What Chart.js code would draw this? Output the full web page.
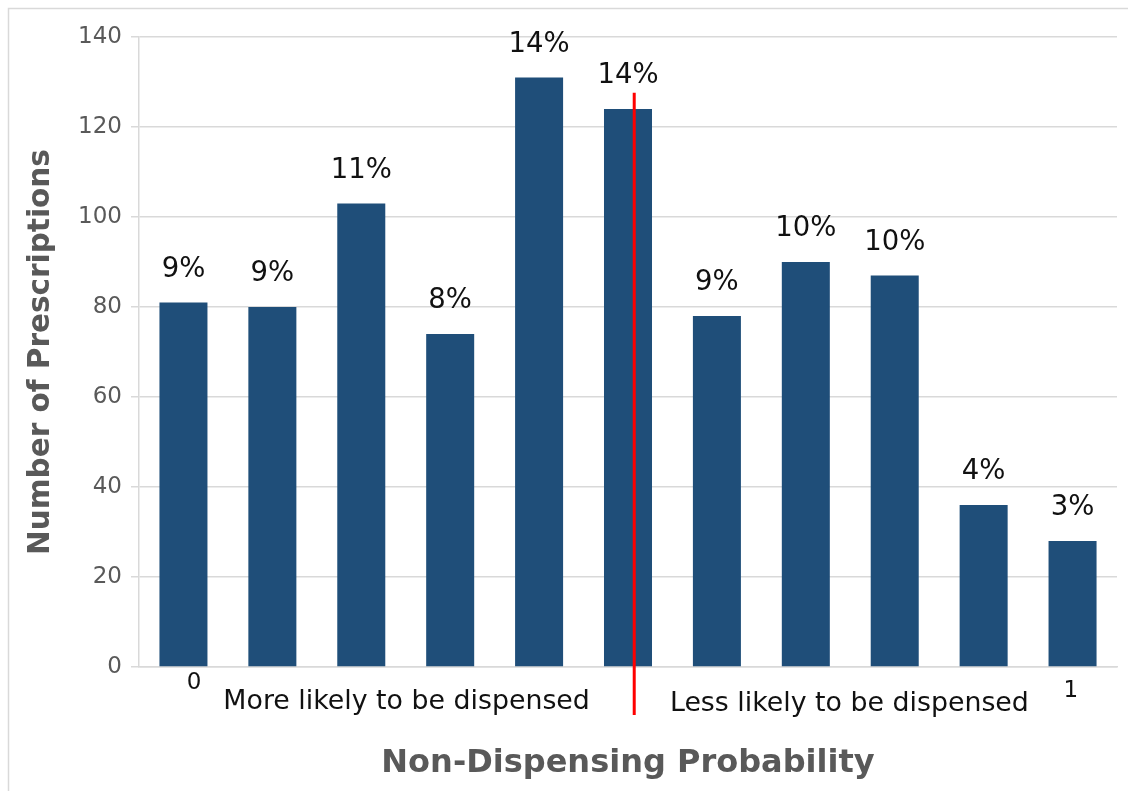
<!DOCTYPE html>
<html>
<head>
<meta charset="utf-8">
<script src="https://cdn.jsdelivr.net/npm/chart.js@4.4.1/dist/chart.umd.min.js"></script>
<style>
  html, body { margin: 0; padding: 0; background: #fff; }
  #wrap { width: 1128px; height: 791px; position: relative; }
</style>
</head>
<body>
<div id="wrap"><canvas id="chart"></canvas></div>
<script>
// probability bins, 0 (left) to 1 (right)
const bins = ['0.0', '0.1', '0.2', '0.3', '0.4', '0.5', '0.6', '0.7', '0.8', '0.9', '1.0'];
const counts = [81, 80, 103, 74, 131, 124, 78, 90, 87, 36, 28];
const shares = ['9%', '9%', '11%', '8%', '14%', '14%', '9%', '10%', '10%', '4%', '3%'];
const yTicks = [0, 20, 40, 60, 80, 100, 120, 140];

// threshold marker (bin index position, top value)
const cutIndex = 5.07;
const cutTop = 127.6;

// captions under the axis: [text, bin index position, offset below axis, font size]
const axisNotes = [
  ['0', 0.12, 16, 23],
  ['1', 9.98, 24, 23],
  ['More likely to be dispensed', 2.51, 35, 26.8],
  ['Less likely to be dispensed', 7.49, 37, 26.8],
];

const FONT = "'DejaVu Sans', Verdana, sans-serif";
const GRID = '#d9d9d9';
const GREY = '#595959';

const framePlugin = {
  id: 'frame',
  beforeDraw(chart) {
    const { ctx, width, height } = chart;
    ctx.save();
    ctx.strokeStyle = GRID;
    ctx.lineWidth = 1.5;
    ctx.beginPath();
    ctx.moveTo(8.5, height);
    ctx.lineTo(8.5, 8.5);
    ctx.lineTo(width, 8.5);
    ctx.stroke();
    ctx.restore();
  },
};

const barLabelPlugin = {
  id: 'barLabels',
  afterDatasetsDraw(chart) {
    const { ctx } = chart;
    const meta = chart.getDatasetMeta(0);
    ctx.save();
    ctx.font = `27.5px ${FONT}`;
    ctx.fillStyle = '#111';
    ctx.textAlign = 'center';
    ctx.textBaseline = 'middle';
    meta.data.forEach((bar, i) => {
      ctx.fillText(shares[i], bar.x, bar.y - 33);
    });
    ctx.restore();
  },
};

const cutLinePlugin = {
  id: 'cutLine',
  afterDatasetsDraw(chart) {
    const { ctx, chartArea } = chart;
    const x = chart.scales.x.getPixelForValue(cutIndex);
    const top = chart.scales.y.getPixelForValue(cutTop);
    ctx.save();
    ctx.strokeStyle = '#ff0000';
    ctx.lineWidth = 3;
    ctx.beginPath();
    ctx.moveTo(x, top);
    ctx.lineTo(x, chartArea.bottom + 48);
    ctx.stroke();
    ctx.restore();
  },
};

const axisNotesPlugin = {
  id: 'axisNotes',
  afterDraw(chart) {
    const { ctx, chartArea } = chart;
    ctx.save();
    ctx.fillStyle = '#111';
    ctx.textAlign = 'center';
    ctx.textBaseline = 'middle';
    axisNotes.forEach(([text, idx, dy, size]) => {
      ctx.font = `${size}px ${FONT}`;
      ctx.fillText(text, chart.scales.x.getPixelForValue(idx), chartArea.bottom + dy);
    });
    ctx.restore();
  },
};

new Chart(document.getElementById('chart'), {
  type: 'bar',
  plugins: [framePlugin, barLabelPlugin, cutLinePlugin, axisNotesPlugin],
  data: {
    labels: bins,
    datasets: [{
      data: counts,
      backgroundColor: '#1f4e79',
      borderWidth: 0,
      barPercentage: 0.54,
      categoryPercentage: 1,
    }],
  },
  options: {
    responsive: true,
    maintainAspectRatio: false,
    animation: false,
    layout: { padding: { top: 37, right: 11, left: 0, bottom: 0 } },
    plugins: {
      legend: { display: false },
      tooltip: { enabled: false },
    },
    scales: {
      x: {
        grid: { display: false },
        border: { display: true, color: GRID, width: 1.5 },
        ticks: { display: false },
        title: {
          display: true,
          text: 'Non-Dispensing Probability',
          color: GREY,
          font: { family: FONT, size: 32, weight: 'bold' },
          padding: { top: 0, bottom: 8 },
        },
        afterFit(scale) { scale.height = 124; },
      },
      y: {
        min: 0,
        max: 140,
        afterBuildTicks(scale) { scale.ticks = yTicks.map((v) => ({ value: v })); },
        grid: { color: GRID, lineWidth: 1.5, tickLength: 8 },
        border: { display: true, color: GRID, width: 1.5 },
        ticks: {
          color: GREY,
          padding: 9,
          font: { family: FONT, size: 23 },
        },
        title: {
          display: true,
          text: 'Number of Prescriptions',
          color: GREY,
          font: { family: FONT, size: 29.5, weight: 'bold' },
          padding: { top: 24, bottom: 0 },
        },
        afterFit(scale) { scale.width = 139; },
      },
    },
  },
});
</script>
</body>
</html>
